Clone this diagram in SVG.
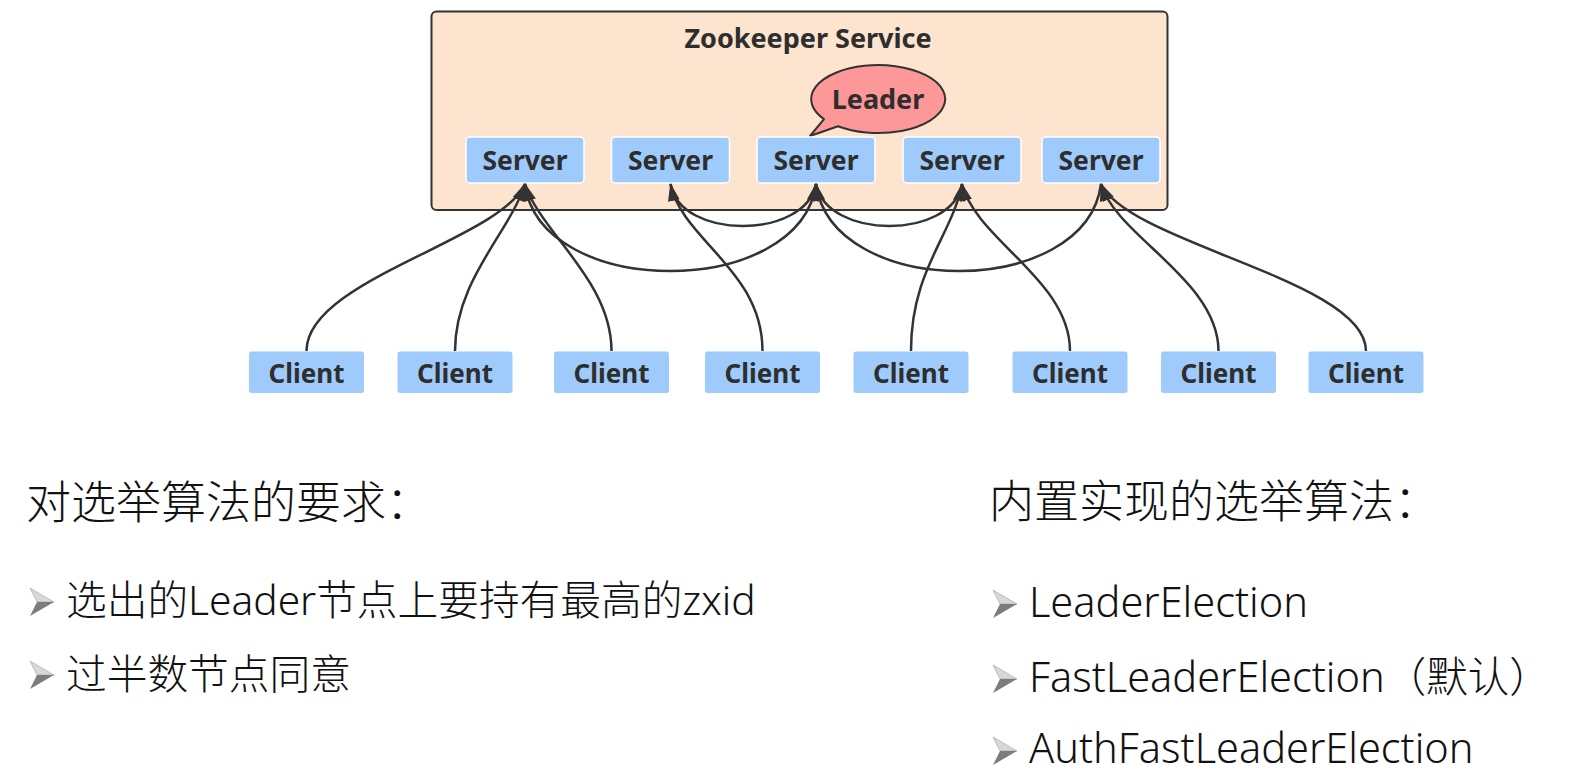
<svg xmlns="http://www.w3.org/2000/svg" xmlns:xlink="http://www.w3.org/1999/xlink" width="1596" height="776" viewBox="0 0 1596 776">
<style>
.lbl{font-family:"Noto Sans","Open Sans","Liberation Sans",sans-serif;font-weight:700;fill:#2e2e2e;text-anchor:middle}
.srv{fill:#9fcbfc;stroke:#ffffff;stroke-width:1.5}
.cli{fill:#9fcbfc;stroke:#ffffff;stroke-width:1}
.conn path{fill:none;stroke:#333333;stroke-width:2.5;marker-end:url(#ah)}
.txt{font-family:"Noto Sans","Noto Sans CJK SC",sans-serif;font-weight:300;fill:#111111}
</style>
<defs>
<marker id="ah" markerUnits="userSpaceOnUse" markerWidth="20" markerHeight="14" refX="17" refY="6" orient="auto">
<path d="M0,0 L18,6 L0,12 z" fill="#333333"/>
</marker>
<g id="bullet">
<polygon points="0,-14 24,0 7,0" fill="#d8d8d8" stroke="#a0a0a0" stroke-width="0.6"/>
<polygon points="0,14 24,0 7,0" fill="#7c7c7c"/>
</g>
</defs>
<rect width="1596" height="776" fill="#ffffff"/>

<g id="zookeeper-service">
<rect x="431.5" y="11.5" width="736" height="198.5" rx="5" fill="#fde4cf" stroke="#333333" stroke-width="2"/>
<text class="lbl" x="808" y="48" font-size="27">Zookeeper Service</text>
</g>

<g id="leader">
<path d="M824,119.1 A67,34 0 1 1 838,126.3 L810,136 Z" fill="#fd9898" stroke="#333333" stroke-width="2" stroke-linejoin="round"/>
<text class="lbl" x="878" y="108.5" font-size="27">Leader</text>
</g>

<g id="server1"><rect class="srv" x="466" y="137" width="118" height="46" rx="4"/><text class="lbl" x="525" y="170" font-size="26.5">Server</text></g>
<g id="server2"><rect class="srv" x="611.5" y="137" width="118" height="46" rx="4"/><text class="lbl" x="670.5" y="170" font-size="26.5">Server</text></g>
<g id="server3"><rect class="srv" x="757" y="137" width="118" height="46" rx="4"/><text class="lbl" x="816" y="170" font-size="26.5">Server</text></g>
<g id="server4"><rect class="srv" x="903" y="137" width="118" height="46" rx="4"/><text class="lbl" x="962" y="170" font-size="26.5">Server</text></g>
<g id="server5"><rect class="srv" x="1042" y="137" width="118" height="46" rx="4"/><text class="lbl" x="1101" y="170" font-size="26.5">Server</text></g>

<g id="client1"><rect class="cli" x="248.5" y="351" width="116" height="42.5" rx="3"/><text class="lbl" x="306.5" y="382.5" font-size="26">Client</text></g>
<g id="client2"><rect class="cli" x="397" y="351" width="116" height="42.5" rx="3"/><text class="lbl" x="455" y="382.5" font-size="26">Client</text></g>
<g id="client3"><rect class="cli" x="553.5" y="351" width="116" height="42.5" rx="3"/><text class="lbl" x="611.5" y="382.5" font-size="26">Client</text></g>
<g id="client4"><rect class="cli" x="704.5" y="351" width="116" height="42.5" rx="3"/><text class="lbl" x="762.5" y="382.5" font-size="26">Client</text></g>
<g id="client5"><rect class="cli" x="853" y="351" width="116" height="42.5" rx="3"/><text class="lbl" x="911" y="382.5" font-size="26">Client</text></g>
<g id="client6"><rect class="cli" x="1012" y="351" width="116" height="42.5" rx="3"/><text class="lbl" x="1070" y="382.5" font-size="26">Client</text></g>
<g id="client7"><rect class="cli" x="1160.5" y="351" width="116" height="42.5" rx="3"/><text class="lbl" x="1218.5" y="382.5" font-size="26">Client</text></g>
<g id="client8"><rect class="cli" x="1308" y="351" width="116" height="42.5" rx="3"/><text class="lbl" x="1366" y="382.5" font-size="26">Client</text></g>

<g id="connectors" class="conn">
<path d="M306.5,351 C306.5,280 500,240 525,184"/>
<path d="M455,351 C455,280 510,232 525,184"/>
<path d="M611.5,351 C611.5,280 540,232 525,184"/>
<path d="M762.5,351 C762.5,270 682,240 670.5,184"/>
<path d="M911,351 C911,270 952,236 962,184"/>
<path d="M1070,351 C1070,280 976,240 962,184"/>
<path d="M1218.5,351 C1218.5,280 1116,236 1101,184"/>
<path d="M1366,351 C1366,280 1130,244 1101,184"/>
<path d="M525,184 C540,300 800,300 816,184"/>
<path d="M670.5,184 C680,240 805,240 816,184"/>
<path d="M962,184 C952,240 827,240 816,184"/>
<path d="M1101,184 C1086,300 832,300 816,184"/>
</g>

<g id="requirements">
<text class="txt" x="26" y="519" font-size="45">对选举算法的要求：</text>
<use xlink:href="#bullet" x="30" y="602"/>
<text class="txt" x="66" y="615" font-size="40.7">选出的Leader节点上要持有最高的zxid</text>
<use xlink:href="#bullet" x="30" y="675"/>
<text class="txt" x="66" y="689" font-size="40.7">过半数节点同意</text>
</g>

<g id="algorithms">
<text class="txt" x="989" y="518" font-size="45">内置实现的选举算法：</text>
<use xlink:href="#bullet" x="993" y="604"/>
<text class="txt" x="1029" y="617" font-size="41.5">LeaderElection</text>
<use xlink:href="#bullet" x="993" y="679"/>
<text class="txt" x="1029" y="692" font-size="41.5">FastLeaderElection（默认）</text>
<use xlink:href="#bullet" x="993" y="751"/>
<text class="txt" x="1029" y="763" font-size="41.5">AuthFastLeaderElection</text>
</g>
</svg>
